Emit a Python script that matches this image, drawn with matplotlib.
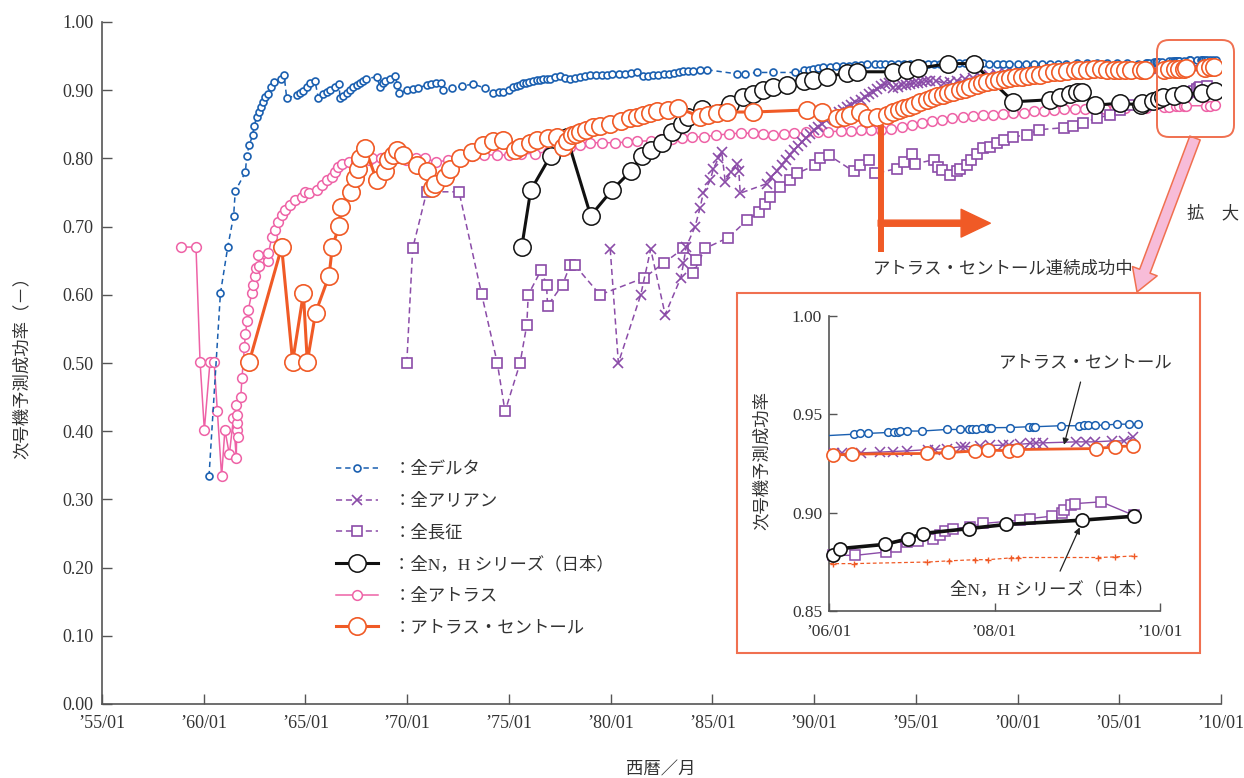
"""
Launch-vehicle next-flight success-rate chart (main + zoomed inset).
Writes out.png (1244x778).
"""

import numpy as np
import matplotlib
matplotlib.use("Agg")
import matplotlib.pyplot as plt
from matplotlib.lines import Line2D
from matplotlib.patches import Rectangle, FancyBboxPatch

plt.rcParams["font.family"] = ["Liberation Serif", "Noto Sans CJK JP"]
plt.rcParams["text.color"] = "#333333"

# -- colours --------------------------------------------------------------------
C_DELTA = "#1a5fb0"
C_PURP  = "#8b4ca8"
C_NH    = "#111111"
C_ATLAS = "#ee62a6"
C_AC    = "#f05a26"
C_FRAME = "#f07050"
C_AXIS  = "#555555"

# -- data: year (decimal) / predicted success rate --------------------------------
delta_year = [
    1960.26, 1960.82, 1961.18, 1961.47, 1961.55, 1962.05, 1962.11, 1962.24, 1962.41, 1962.47,
    1962.60, 1962.70, 1962.80, 1962.90, 1963.03, 1963.16, 1963.29, 1963.46, 1963.79, 1963.95,
    1964.08, 1964.57, 1964.75, 1964.90, 1965.06, 1965.23, 1965.47, 1965.64, 1965.87, 1966.05,
    1966.20, 1966.45, 1966.65, 1966.70, 1966.85, 1967.03, 1967.20, 1967.36, 1967.52, 1967.68,
    1967.85, 1967.97, 1968.50, 1968.66, 1968.80, 1968.90, 1969.15, 1969.40, 1969.52, 1969.62,
    1969.98, 1970.30, 1970.55, 1970.96, 1971.16, 1971.40, 1971.66, 1971.75, 1972.19, 1972.68,
    1973.25, 1973.83, 1974.24, 1974.50, 1974.73, 1975.00, 1975.22, 1975.40, 1975.55, 1975.71,
    1975.85, 1976.00, 1976.20, 1976.37, 1976.55, 1976.70, 1976.85, 1977.02, 1977.25, 1977.50,
    1977.75, 1978.00, 1978.25, 1978.50, 1978.75, 1979.00, 1979.30, 1979.56, 1979.80, 1980.05,
    1980.40, 1980.71, 1981.00, 1981.28, 1981.61, 1981.85, 1982.10, 1982.35, 1982.60, 1982.85,
    1983.09, 1983.35, 1983.58, 1983.80, 1984.07, 1984.40, 1984.73, 1986.20, 1986.60, 1987.18,
    1988.00, 1989.07, 1989.48, 1989.75, 1989.97, 1990.20, 1990.46, 1990.80, 1991.10, 1991.40,
    1991.70, 1992.00, 1992.30, 1992.60, 1993.00, 1993.25, 1993.50, 1993.80, 1994.10, 1994.40,
    1994.70, 1995.00, 1995.30, 1995.60, 1995.90, 1996.20, 1996.50, 1996.80, 1997.10, 1997.40,
    1997.70, 1998.00, 1998.30, 1998.60, 1999.00, 1999.30, 1999.60, 2000.00, 2000.40, 2000.80,
    2001.20, 2001.60, 2002.00, 2002.40, 2002.90, 2003.40, 2003.90, 2004.40, 2004.90, 2005.40,
    2005.90,
    2006.30, 2006.38, 2006.47, 2006.71, 2006.79, 2006.83, 2006.86, 2006.94, 2007.12, 2007.42,
    2007.58, 2007.69, 2007.73, 2007.78, 2007.85, 2007.93, 2007.96, 2008.19, 2008.42, 2008.46,
    2008.49, 2008.80, 2009.02, 2009.08, 2009.13, 2009.21, 2009.33, 2009.48, 2009.62, 2009.73]
delta_rate = [
    0.334, 0.602, 0.670, 0.716, 0.752, 0.780, 0.803, 0.820, 0.834, 0.847,
    0.860, 0.868, 0.876, 0.883, 0.890, 0.895, 0.905, 0.912, 0.917, 0.922,
    0.888, 0.893, 0.896, 0.899, 0.905, 0.910, 0.913, 0.888, 0.895, 0.897,
    0.900, 0.905, 0.909, 0.888, 0.892, 0.896, 0.900, 0.905, 0.908, 0.911,
    0.914, 0.916, 0.920, 0.905, 0.910, 0.913, 0.917, 0.921, 0.908, 0.896,
    0.900, 0.902, 0.903, 0.908, 0.909, 0.910, 0.911, 0.900, 0.903, 0.906,
    0.909, 0.903, 0.896, 0.897, 0.898, 0.901, 0.904, 0.906, 0.908, 0.910,
    0.911, 0.912, 0.914, 0.915, 0.915, 0.916, 0.916, 0.917, 0.919, 0.921,
    0.918, 0.916, 0.918, 0.920, 0.921, 0.922, 0.922, 0.922, 0.923, 0.924,
    0.924, 0.924, 0.925, 0.926, 0.921, 0.921, 0.922, 0.923, 0.924, 0.924,
    0.925, 0.926, 0.928, 0.928, 0.928, 0.929, 0.930, 0.924, 0.924, 0.926,
    0.926, 0.926, 0.929, 0.930, 0.931, 0.932, 0.934, 0.934, 0.935, 0.935,
    0.936, 0.937, 0.937, 0.938, 0.938, 0.939, 0.938, 0.939, 0.938, 0.939,
    0.939, 0.938, 0.939, 0.939, 0.939, 0.939, 0.940, 0.940, 0.940, 0.940,
    0.940, 0.940, 0.940, 0.939, 0.939, 0.939, 0.939, 0.939, 0.939, 0.939,
    0.939, 0.939, 0.939, 0.939, 0.940, 0.940, 0.940, 0.940, 0.940, 0.940,
    0.939,
    0.9399, 0.9403, 0.9403, 0.9408, 0.9410, 0.9410, 0.9413, 0.9415, 0.9415, 0.9423,
    0.9423, 0.9423, 0.9426, 0.9426, 0.9428, 0.9432, 0.9432, 0.9433, 0.9437, 0.9437,
    0.9437, 0.9442, 0.9442, 0.9445, 0.9445, 0.9445, 0.9445, 0.9450, 0.9450, 0.9450]

ariane_year = [
    1979.98, 1980.38, 1981.48, 1981.97, 1982.68, 1983.45, 1983.58, 1983.71, 1984.15, 1984.40,
    1984.55, 1984.90, 1985.05, 1985.30, 1985.46, 1985.63, 1985.90, 1986.20, 1986.30, 1986.37,
    1987.68, 1987.90, 1988.17, 1988.40, 1988.60, 1988.80, 1989.00, 1989.20, 1989.40, 1989.60,
    1989.80, 1990.00, 1990.20, 1990.40, 1990.60, 1990.80, 1991.00, 1991.20, 1991.40, 1991.60,
    1991.80, 1992.00, 1992.30, 1992.50, 1992.70, 1992.90, 1993.10, 1993.30, 1993.50, 1993.70,
    1993.90, 1994.10, 1994.30, 1994.50, 1994.70, 1994.90, 1995.10, 1995.30, 1995.50, 1995.70,
    1996.00, 1996.40, 1996.70, 1997.00, 1997.40, 1997.80, 1998.20, 1998.60, 1999.00, 1999.40,
    1999.80, 2000.30, 2000.80, 2001.30, 2001.80, 2002.30, 2002.90, 2003.50, 2004.00, 2004.60,
    2005.20, 2005.80,
    2006.06, 2006.16, 2006.39, 2006.62, 2006.77, 2006.94, 2007.20, 2007.28, 2007.42, 2007.59,
    2007.64, 2007.83, 2007.94, 2008.10, 2008.18, 2008.31, 2008.43, 2008.50, 2008.59, 2008.99,
    2009.10, 2009.21, 2009.42, 2009.56, 2009.67]
ariane_rate = [
    0.667, 0.500, 0.600, 0.667, 0.571, 0.625, 0.646, 0.670, 0.700, 0.728,
    0.749, 0.768, 0.785, 0.800, 0.810, 0.766, 0.780, 0.792, 0.781, 0.749,
    0.763, 0.772, 0.781, 0.790, 0.797, 0.805, 0.812, 0.818, 0.824, 0.830,
    0.836, 0.841, 0.846, 0.851, 0.856, 0.860, 0.864, 0.868, 0.871, 0.875,
    0.878, 0.882, 0.886, 0.890, 0.894, 0.898, 0.902, 0.906, 0.909, 0.911,
    0.903, 0.905, 0.907, 0.908, 0.909, 0.910, 0.911, 0.912, 0.913, 0.913,
    0.914, 0.910, 0.912, 0.914, 0.916, 0.918, 0.920, 0.922, 0.924, 0.926,
    0.928, 0.930, 0.931, 0.930, 0.931, 0.928, 0.929, 0.929, 0.930, 0.930,
    0.930, 0.930,
    0.9301, 0.9301, 0.9304, 0.9308, 0.9311, 0.9314, 0.9321, 0.9321, 0.9326, 0.9335,
    0.9335, 0.9338, 0.9342, 0.9343, 0.9345, 0.9348, 0.9352, 0.9355, 0.9355, 0.9360,
    0.9360, 0.9360, 0.9365, 0.9365, 0.9386]

lm_year = [
    1969.98, 1970.27, 1970.96, 1972.55, 1973.66, 1974.43, 1974.81, 1975.55, 1975.88, 1975.95,
    1976.58, 1976.85, 1976.90, 1977.64, 1978.00, 1978.25, 1979.48, 1981.65, 1982.63, 1983.58,
    1984.20, 1984.07, 1984.64, 1985.79, 1986.69, 1987.30, 1987.60, 1987.84, 1988.33, 1988.83,
    1989.16, 1990.05, 1990.30, 1990.71, 1991.94, 1992.27, 1992.68, 1993.00, 1994.07, 1994.40,
    1994.81, 1994.97, 1995.87, 1996.10, 1996.28, 1996.69, 1997.00, 1997.18, 1997.51, 1997.70,
    1998.00, 1998.30, 1998.66, 1999.00, 1999.31, 1999.80, 2000.46, 2001.03, 2002.26, 2002.75,
    2003.20, 2003.90, 2004.56, 2005.05, 2005.54,
    2006.05, 2006.32, 2006.69, 2006.81, 2006.94, 2007.08, 2007.26, 2007.34, 2007.40, 2007.50,
    2007.70, 2007.86, 2008.31, 2008.43, 2008.69, 2008.81, 2008.84, 2008.93, 2008.97, 2009.29,
    2009.68]
lm_rate = [
    0.500, 0.668, 0.751, 0.751, 0.601, 0.500, 0.429, 0.500, 0.556, 0.600,
    0.636, 0.615, 0.584, 0.615, 0.643, 0.643, 0.600, 0.625, 0.647, 0.668,
    0.651, 0.632, 0.668, 0.684, 0.709, 0.722, 0.733, 0.744, 0.758, 0.768,
    0.778, 0.790, 0.800, 0.805, 0.781, 0.790, 0.798, 0.778, 0.785, 0.795,
    0.807, 0.792, 0.798, 0.788, 0.783, 0.776, 0.781, 0.785, 0.790, 0.798,
    0.807, 0.815, 0.817, 0.822, 0.827, 0.832, 0.834, 0.842, 0.845, 0.847,
    0.852, 0.859, 0.864, 0.871, 0.878,
    0.8783, 0.8783, 0.8800, 0.8826, 0.8850, 0.8856, 0.8868, 0.8885, 0.8907, 0.8919,
    0.8928, 0.8945, 0.8962, 0.8970, 0.8982, 0.8999, 0.9012, 0.9038, 0.9046, 0.9055,
    0.8987]

nh_year = [
    1975.63, 1976.07, 1977.05, 1977.84, 1979.02, 1980.05, 1980.98, 1981.53, 1982.00, 1982.51,
    1983.00, 1983.50, 1983.82, 1984.48, 1985.87, 1986.53, 1987.02, 1987.51, 1988.00, 1988.66,
    1989.48, 1989.97, 1990.63, 1991.60, 1992.10, 1993.90, 1994.56, 1995.10, 1996.60, 1997.84,
    1999.80, 2001.60, 2002.10, 2002.60, 2002.90, 2003.16, 2003.82, 2005.05,
    2006.05, 2006.13, 2006.68, 2006.96, 2007.13, 2007.69, 2008.14, 2009.06, 2009.69]
nh_rate = [
    0.670, 0.753, 0.804, 0.832, 0.716, 0.753, 0.781, 0.803, 0.812, 0.822,
    0.839, 0.851, 0.860, 0.872, 0.880, 0.890, 0.895, 0.900, 0.905, 0.908,
    0.913, 0.915, 0.920, 0.925, 0.927, 0.927, 0.930, 0.932, 0.939, 0.939,
    0.883, 0.886, 0.890, 0.895, 0.898, 0.898, 0.878, 0.881,
    0.8783, 0.8817, 0.8839, 0.8868, 0.8894, 0.8919, 0.8940, 0.8962, 0.8982]

atlas_year = [
    1958.88, 1959.62, 1959.82, 1960.03, 1960.31, 1960.51, 1960.67, 1960.88, 1961.04, 1961.26,
    1961.46, 1961.60, 1961.62, 1961.67, 1961.65, 1961.64, 1961.60, 1961.82, 1961.88, 1962.00,
    1962.05, 1962.13, 1962.19, 1962.36, 1962.42, 1962.50, 1962.56, 1962.74, 1962.66, 1963.15,
    1963.18, 1963.35, 1963.51, 1963.67, 1963.84, 1964.00, 1964.25, 1964.50, 1964.82, 1964.98,
    1965.15, 1965.56, 1965.80, 1966.05, 1966.30, 1966.46, 1966.62, 1966.80, 1967.13, 1967.50,
    1968.11, 1968.28, 1968.70, 1969.10, 1969.50, 1969.94, 1970.42, 1970.90, 1971.40, 1972.00,
    1972.60, 1973.20, 1973.80, 1974.40, 1975.00, 1975.60, 1976.30, 1976.90, 1977.50, 1978.00,
    1978.50, 1979.00, 1979.60, 1980.20, 1980.80, 1981.30, 1982.00, 1982.50, 1983.00, 1983.50,
    1984.00, 1984.60, 1985.20, 1985.80, 1986.40, 1987.00, 1987.50, 1988.00, 1988.50, 1989.00,
    1989.60, 1990.20, 1990.70, 1991.30, 1991.80, 1992.30, 1992.80, 1993.30, 1993.80, 1994.30,
    1994.80, 1995.30, 1995.80, 1996.30, 1996.80, 1997.30, 1997.80, 1998.30, 1998.80, 1999.30,
    1999.80, 2000.30, 2000.80, 2001.30, 2001.80, 2002.30, 2002.80, 2003.30, 2003.80, 2004.30,
    2004.80, 2005.30,
    2006.05, 2006.30, 2007.19, 2007.45, 2007.77, 2007.92, 2008.20, 2008.29, 2009.25, 2009.46,
    2009.69]
atlas_rate = [
    0.670, 0.670, 0.502, 0.402, 0.502, 0.502, 0.430, 0.334, 0.402, 0.366,
    0.419, 0.360, 0.402, 0.392, 0.412, 0.424, 0.438, 0.450, 0.478, 0.523,
    0.543, 0.561, 0.578, 0.602, 0.614, 0.627, 0.639, 0.642, 0.658, 0.649,
    0.661, 0.685, 0.695, 0.707, 0.717, 0.724, 0.732, 0.739, 0.744, 0.751,
    0.749, 0.754, 0.761, 0.768, 0.773, 0.780, 0.787, 0.792, 0.794, 0.796,
    0.797, 0.800, 0.800, 0.800, 0.800, 0.797, 0.800, 0.800, 0.795, 0.797,
    0.800, 0.803, 0.805, 0.805, 0.805, 0.807, 0.807, 0.810, 0.812, 0.817,
    0.820, 0.823, 0.823, 0.823, 0.824, 0.825, 0.826, 0.828, 0.829, 0.830,
    0.831, 0.832, 0.834, 0.836, 0.837, 0.837, 0.836, 0.834, 0.836, 0.837,
    0.838, 0.839, 0.839, 0.840, 0.840, 0.841, 0.842, 0.842, 0.843, 0.846,
    0.849, 0.852, 0.855, 0.857, 0.859, 0.861, 0.862, 0.863, 0.864, 0.865,
    0.866, 0.867, 0.869, 0.870, 0.871, 0.872, 0.872, 0.872, 0.873, 0.873,
    0.874, 0.874,
    0.8741, 0.8741, 0.8749, 0.8755, 0.8761, 0.8761, 0.8770, 0.8772, 0.8772, 0.8775,
    0.8780]

ac_year = [
    1962.24, 1963.83, 1964.37, 1964.90, 1965.09, 1965.50, 1966.16, 1966.32, 1966.65, 1966.75,
    1967.22, 1967.43, 1967.60, 1967.68, 1967.93, 1968.50, 1968.91, 1969.07, 1969.30, 1969.48,
    1969.80, 1970.50, 1970.96, 1971.20, 1971.37, 1971.86, 1972.10, 1972.60, 1973.18, 1973.75,
    1974.20, 1974.73, 1975.30, 1975.55, 1976.04, 1976.37, 1976.90, 1977.35, 1977.67, 1977.84,
    1978.09, 1978.30, 1978.50, 1978.80, 1979.15, 1979.50, 1979.97, 1980.50, 1980.96, 1981.30,
    1981.61, 1981.95, 1982.27, 1982.80, 1983.33, 1984.40, 1984.80, 1985.22, 1985.70, 1987.01,
    1989.64, 1990.38, 1991.12, 1991.45, 1991.77, 1992.27, 1992.59, 1993.08, 1993.58, 1993.90,
    1994.15, 1994.40, 1994.65, 1994.89, 1995.20, 1995.54, 1995.80, 1996.05, 1996.36, 1996.60,
    1996.85, 1997.18, 1997.40, 1997.65, 1998.00, 1998.25, 1998.50, 1998.82, 1999.10, 1999.40,
    1999.64, 1999.90, 2000.20, 2000.50, 2000.80, 2001.10, 2001.44, 2001.80, 2002.10, 2002.45,
    2002.80, 2003.08, 2003.40, 2003.75, 2004.10, 2004.40, 2004.72, 2005.00, 2005.30, 2005.60,
    2006.05, 2006.28, 2007.18, 2007.44, 2007.76, 2007.92, 2008.18, 2008.27, 2009.23, 2009.46,
    2009.67]
ac_rate = [
    0.502, 0.670, 0.502, 0.602, 0.502, 0.574, 0.628, 0.670, 0.701, 0.729,
    0.751, 0.771, 0.785, 0.800, 0.815, 0.768, 0.781, 0.798, 0.805, 0.812,
    0.805, 0.790, 0.781, 0.756, 0.763, 0.773, 0.785, 0.800, 0.810, 0.820,
    0.825, 0.827, 0.812, 0.817, 0.822, 0.827, 0.830, 0.832, 0.817, 0.825,
    0.834, 0.836, 0.839, 0.842, 0.846, 0.848, 0.851, 0.855, 0.859, 0.861,
    0.864, 0.866, 0.869, 0.871, 0.874, 0.861, 0.864, 0.866, 0.868, 0.868,
    0.871, 0.868, 0.859, 0.861, 0.864, 0.868, 0.859, 0.861, 0.864, 0.868,
    0.871, 0.874, 0.876, 0.878, 0.882, 0.886, 0.889, 0.891, 0.893, 0.896,
    0.898, 0.900, 0.902, 0.905, 0.908, 0.910, 0.912, 0.913, 0.915, 0.917,
    0.918, 0.919, 0.920, 0.921, 0.922, 0.923, 0.925, 0.926, 0.927, 0.928,
    0.929, 0.930, 0.930, 0.931, 0.931, 0.930, 0.930, 0.930, 0.929, 0.929,
    0.9292, 0.9298, 0.9301, 0.9306, 0.9313, 0.9318, 0.9315, 0.9321, 0.9326, 0.9335,
    0.9340]

x_ticks = list(range(1955, 2011, 5))
y_ticks = [0.0, 0.1, 0.2, 0.3, 0.4, 0.5, 0.6, 0.7, 0.8, 0.9, 1.0]
inset_x_ticks = [2006, 2008, 2010]
inset_y_ticks = [0.85, 0.90, 0.95, 1.00]

legend_labels = ["：全デルタ", "：全アリアン", "：全長征",
                 "：全N，H シリーズ（日本）", "：全アトラス", "：アトラス・セントール"]

# -- styles ---------------------------------------------------------------------
main_styles = {
    "delta":  dict(color=C_DELTA, lw=1.1, ls=(0, (3.5, 2.5)), marker="o", ms=5,
                   mfc="white", mew=1.2, zorder=5),
    "ariane": dict(color=C_PURP, lw=1.1, ls=(0, (4, 2.5)), marker="x", ms=7,
                   mew=1.2, zorder=4),
    "lm":     dict(color=C_PURP, lw=1.1, ls=(0, (4, 2.5)), marker="s", ms=7.5,
                   mfc="white", mew=1.2, zorder=3),
    "nh":     dict(color=C_NH, lw=2.2, ls="-", marker="o", ms=12.5,
                   mfc="white", mew=1.1, zorder=6),
    "atlas":  dict(color=C_ATLAS, lw=1.1, ls="-", marker="o", ms=7,
                   mfc="white", mew=1.1, zorder=2),
    "ac":     dict(color=C_AC, lw=2.2, ls="-", marker="o", ms=12.5,
                   mfc="white", mew=1.2, zorder=7),
}
inset_styles = {
    "delta":  dict(color=C_DELTA, lw=1.0, ls="-", marker="o", ms=5.5, mfc="white", mew=1.1, zorder=5),
    "ariane": dict(color=C_PURP, lw=1.0, ls="-", marker="x", ms=6.5, mew=1.1, zorder=4),
    "lm":     dict(color=C_PURP, lw=1.0, ls="-", marker="s", ms=6.5, mfc="white", mew=1.1, zorder=3),
    "nh":     dict(color=C_NH, lw=2.6, ls="-", marker="o", ms=9.5, mfc="white", mew=1.2, zorder=6),
    "atlas":  dict(color=C_AC, lw=0.9, ls=(0, (3, 2)), marker="+", ms=5, mew=1.0, zorder=2),
    "ac":     dict(color=C_AC, lw=2.0, ls="-", marker="o", ms=9.5, mfc="white", mew=1.2, zorder=7),
}

series = {
    "delta":  (delta_year, delta_rate),
    "ariane": (ariane_year, ariane_rate),
    "lm":     (lm_year, lm_rate),
    "nh":     (nh_year, nh_rate),
    "atlas":  (atlas_year, atlas_rate),
    "ac":     (ac_year, ac_rate),
}

W, H = 1244, 778
fig = plt.figure(figsize=(W / 100, H / 100), dpi=100)

# ----------------------------------------------------------------------------
# main axes
# ----------------------------------------------------------------------------
ax = fig.add_axes([102 / W, 74 / H, 1119 / W, 682 / H])
ax.set_zorder(0)
for key, (xs, ys) in series.items():
    ax.plot(xs, ys, **main_styles[key])

ax.set_xlim(1955, 2010)
ax.set_ylim(0, 1.0)
ax.set_xticks(x_ticks)
ax.set_xticklabels([f"’{y % 100:02d}/01" for y in x_ticks])
ax.set_yticks(y_ticks)
ax.set_yticklabels([f"{v:.2f}" for v in y_ticks])
ax.tick_params(direction="in", length=7, width=1, color=C_AXIS,
               labelsize=13, labelcolor="#333333")
ax.tick_params(axis="y", pad=6)
ax.tick_params(axis="x", pad=8)
for s in ("top", "right"):
    ax.spines[s].set_visible(False)
for s in ("left", "bottom"):
    ax.spines[s].set_color(C_AXIS)
    ax.spines[s].set_linewidth(1.2)

# legend
order = ["delta", "ariane", "lm", "nh", "atlas", "ac"]
handles = [Line2D([], [], **{k: v for k, v in main_styles[key].items() if k != "zorder"})
           for key in order]
ax.legend(handles, legend_labels, loc="upper left",
          bbox_to_anchor=(336 / W, 1 - 462 / H), bbox_transform=fig.transFigure,
          frameon=False, handlelength=2.4, handletextpad=0.9, labelspacing=0.88,
          borderpad=0, borderaxespad=0, numpoints=1, fontsize=12.5)

# "continuous success" L-shaped arrow
ax.plot([1993.3, 1993.3], [0.663, 0.849], color=C_AC, lw=4.3,
        solid_capstyle="butt", zorder=8)
ax.annotate("", xy=(1998.66, 0.705), xytext=(1993.15, 0.705),
            arrowprops=dict(arrowstyle="simple,head_length=1.05,head_width=1.0,tail_width=0.22",
                            mutation_scale=20, color=C_AC, shrinkA=0, shrinkB=0),
            zorder=8)
fig.text(1003 / W, 1 - 270 / H, "アトラス・セントール連続成功中", fontsize=12.5,
         ha="center", va="center")

# axis titles
fig.text(22 / W, 1 - 363 / H, "次号機予測成功率（－）", rotation=90, fontsize=12.5,
         ha="center", va="center")
fig.text(661 / W, 1 - 770 / H, "西暦／月", fontsize=12.5, ha="center", va="center")

# zoom marker box and pink arrow
fig.patches.append(FancyBboxPatch((11.57, (H - 137) / 100), 0.77, 0.97,
                                  boxstyle="round,pad=0,rounding_size=0.12",
                                  transform=fig.dpi_scale_trans, fill=False,
                                  ec=C_FRAME, lw=1.4, zorder=9))
ax.annotate("", xy=(1137, H - 292), xycoords="figure pixels",
            xytext=(1195, H - 138), textcoords="figure pixels",
            arrowprops=dict(arrowstyle="simple,head_length=0.8,head_width=0.95,tail_width=0.4",
                            mutation_scale=20, fc="#f7bcd8", ec=C_FRAME, lw=1.1,
                            shrinkA=0, shrinkB=0),
            annotation_clip=False, zorder=9)
fig.text(1213 / W, 1 - 214 / H, "拡　大", fontsize=12.5, ha="center", va="center")

# ----------------------------------------------------------------------------
# inset (2006-2010)
# ----------------------------------------------------------------------------
fig.patches.append(Rectangle((737 / W, 125 / H), 463 / W, 360 / H,
                             transform=fig.transFigure, fc="white",
                             ec=C_FRAME, lw=1.5, zorder=1))
ax2 = fig.add_axes([829 / W, 167 / H, 331 / W, 295 / H])
ax2.set_zorder(2)
ax2.set_facecolor("none")
for key, (xs, ys) in series.items():
    st = dict(inset_styles[key])
    xs = np.array(xs)
    ys = np.array(ys)
    line_st = {k: v for k, v in st.items() if k not in ("marker", "ms", "mfc", "mew")}
    ax2.plot(xs, ys, **line_st)
    m = xs >= 2006.0
    mk_st = {k: v for k, v in st.items() if k not in ("lw", "ls")}
    ax2.plot(xs[m], ys[m], ls="none", clip_on=False, **mk_st)

ax2.set_xlim(2006, 2010)
ax2.set_ylim(0.85, 1.0)
ax2.set_xticks(inset_x_ticks)
ax2.set_xticklabels([f"’{y % 100:02d}/01" for y in inset_x_ticks])
ax2.set_yticks(inset_y_ticks)
ax2.set_yticklabels([f"{v:.2f}" for v in inset_y_ticks])
ax2.tick_params(direction="in", length=6, width=1, color=C_AXIS,
                labelsize=12.5, labelcolor="#333333")
ax2.tick_params(axis="y", pad=5)
ax2.tick_params(axis="x", pad=9)
for s in ("top", "right"):
    ax2.spines[s].set_visible(False)
for s in ("left", "bottom"):
    ax2.spines[s].set_color(C_AXIS)
    ax2.spines[s].set_linewidth(1.2)

fig.text(762 / W, 1 - 460 / H, "次号機予測成功率", rotation=90, fontsize=12.5,
         ha="center", va="center", zorder=3)

ax2.annotate("アトラス・セントール", xy=(2008.84, 0.9345), xytext=(2009.1, 0.976),
             fontsize=12.5, ha="center", va="center",
             arrowprops=dict(arrowstyle="-|>", color="#222222", lw=0.9,
                             mutation_scale=9, shrinkA=6, shrinkB=0),
             annotation_clip=False, zorder=10)
ax2.annotate("全N，H シリーズ（日本）", xy=(2009.03, 0.8925), xytext=(2008.69, 0.8607),
             fontsize=12.5, ha="center", va="center",
             arrowprops=dict(arrowstyle="-|>", color="#222222", lw=0.9,
                             mutation_scale=9, shrinkA=6, shrinkB=0),
             annotation_clip=False, zorder=10)

fig.savefig("out.png", dpi=100)
plt.close(fig)
